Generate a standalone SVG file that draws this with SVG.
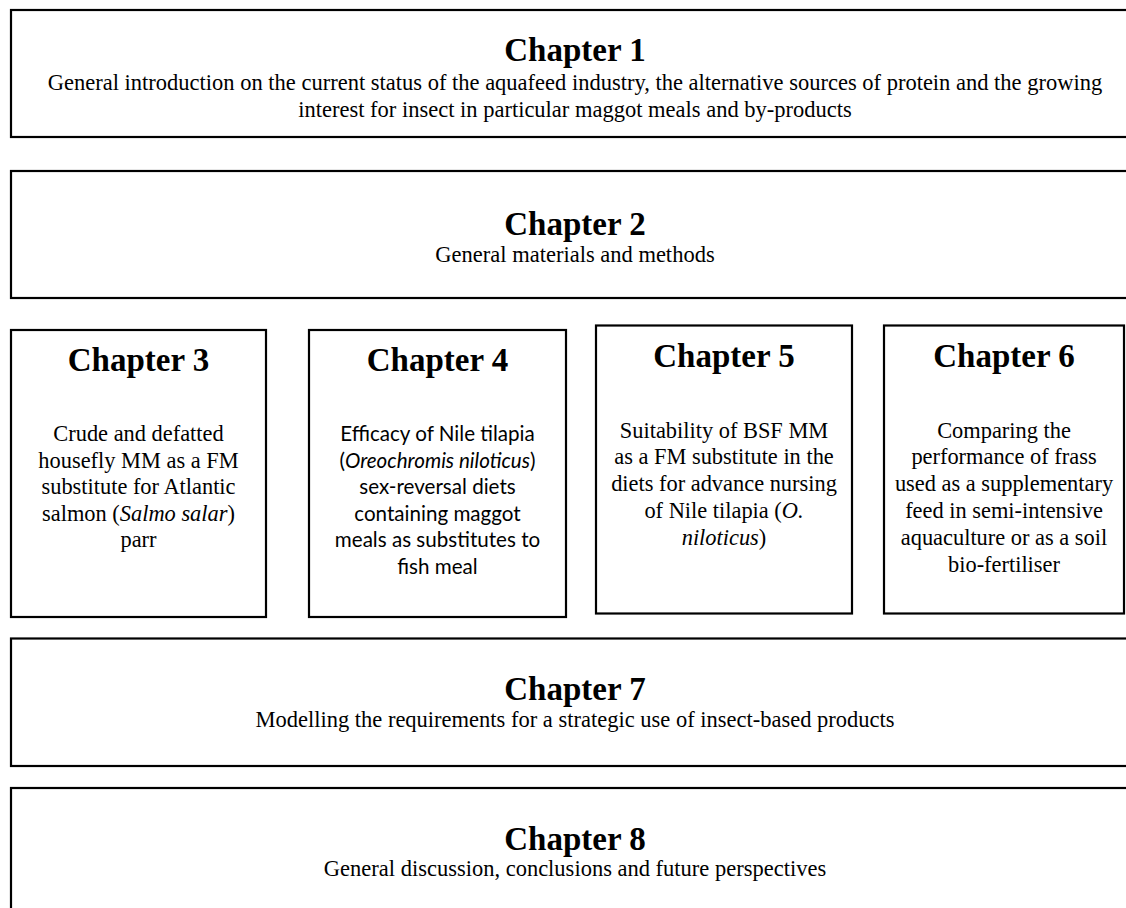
<svg xmlns="http://www.w3.org/2000/svg" width="1126" height="908" viewBox="0 0 1126 908">
<style>
.box{fill:#ffffff;stroke:#000000;stroke-width:2.2}
.t{font-family:"Liberation Serif","Times New Roman",serif;font-weight:bold;font-size:33px;text-anchor:middle;fill:#000}
.s{font-family:"Liberation Serif","Times New Roman",serif;font-size:22.4px;text-anchor:middle;fill:#000}
.w{font-family:"Liberation Serif","Times New Roman",serif;font-size:22.5px;text-anchor:middle;fill:#000}
.c{font-family:Lato,"Open Sans",sans-serif;font-size:20.6px;text-anchor:middle;fill:#000}
</style>
<rect width="1126" height="908" fill="#ffffff"/>
<g id="connectors"></g>
<g id="ch1">
<rect class="box" x="11" y="10" width="1130" height="127"/>
<text class="t" x="575" y="61">Chapter 1</text>
<text class="w" x="575" y="90">General introduction on the current status of the aquafeed industry, the alternative sources of protein and the growing</text>
<text class="w" x="575" y="117">interest for insect in particular maggot meals and by-products</text>
</g>
<g id="ch2">
<rect class="box" x="11" y="171" width="1130" height="127"/>
<text class="t" x="575" y="235">Chapter 2</text>
<text class="w" x="575" y="262">General materials and methods</text>
</g>
<g id="ch3">
<rect class="box" x="11" y="330" width="255" height="287"/>
<text class="t" x="138.5" y="371">Chapter 3</text>
<text class="s" x="138.5" y="441">Crude and defatted</text>
<text class="s" x="138.5" y="467.5">housefly MM as a FM</text>
<text class="s" x="138.5" y="494">substitute for Atlantic</text>
<text class="s" x="138.5" y="520.5">salmon (<tspan font-style="italic">Salmo salar</tspan>)</text>
<text class="s" x="138.5" y="547">parr</text>
</g>
<g id="ch4">
<rect class="box" x="309" y="330" width="257" height="287"/>
<text class="t" x="437.5" y="371">Chapter 4</text>
<text class="c" x="437.5" y="441">Efficacy of Nile tilapia</text>
<text class="c" x="437.5" y="467.5">(<tspan font-style="italic">Oreochromis niloticus</tspan>)</text>
<text class="c" x="437.5" y="494">sex-reversal diets</text>
<text class="c" x="437.5" y="520.5">containing maggot</text>
<text class="c" x="437.5" y="547">meals as substitutes to</text>
<text class="c" x="437.5" y="574">fish meal</text>
</g>
<g id="ch5">
<rect class="box" x="596" y="325.5" width="256" height="288"/>
<text class="t" x="724" y="367">Chapter 5</text>
<text class="s" x="724" y="437.5">Suitability of BSF MM</text>
<text class="s" x="724" y="464">as a FM substitute in the</text>
<text class="s" x="724" y="491">diets for advance nursing</text>
<text class="s" x="724" y="518">of Nile tilapia (<tspan font-style="italic">O.</tspan></text>
<text class="s" x="724" y="545"><tspan font-style="italic">niloticus</tspan>)</text>
</g>
<g id="ch6">
<rect class="box" x="884" y="325.5" width="240" height="288"/>
<text class="t" x="1004" y="367">Chapter 6</text>
<text class="s" x="1004" y="437.5">Comparing the</text>
<text class="s" x="1004" y="464">performance of frass</text>
<text class="s" x="1004" y="491">used as a supplementary</text>
<text class="s" x="1004" y="518">feed in semi-intensive</text>
<text class="s" x="1004" y="545">aquaculture or as a soil</text>
<text class="s" x="1004" y="572">bio-fertiliser</text>
</g>
<g id="ch7">
<rect class="box" x="11" y="638.5" width="1130" height="127.5"/>
<text class="t" x="575" y="700">Chapter 7</text>
<text class="w" x="575" y="727">Modelling the requirements for a strategic use of insect-based products</text>
</g>
<g id="ch8">
<rect class="box" x="11" y="788" width="1130" height="140"/>
<text class="t" x="575" y="850">Chapter 8</text>
<text class="w" x="575" y="876">General discussion, conclusions and future perspectives</text>
</g>
</svg>
